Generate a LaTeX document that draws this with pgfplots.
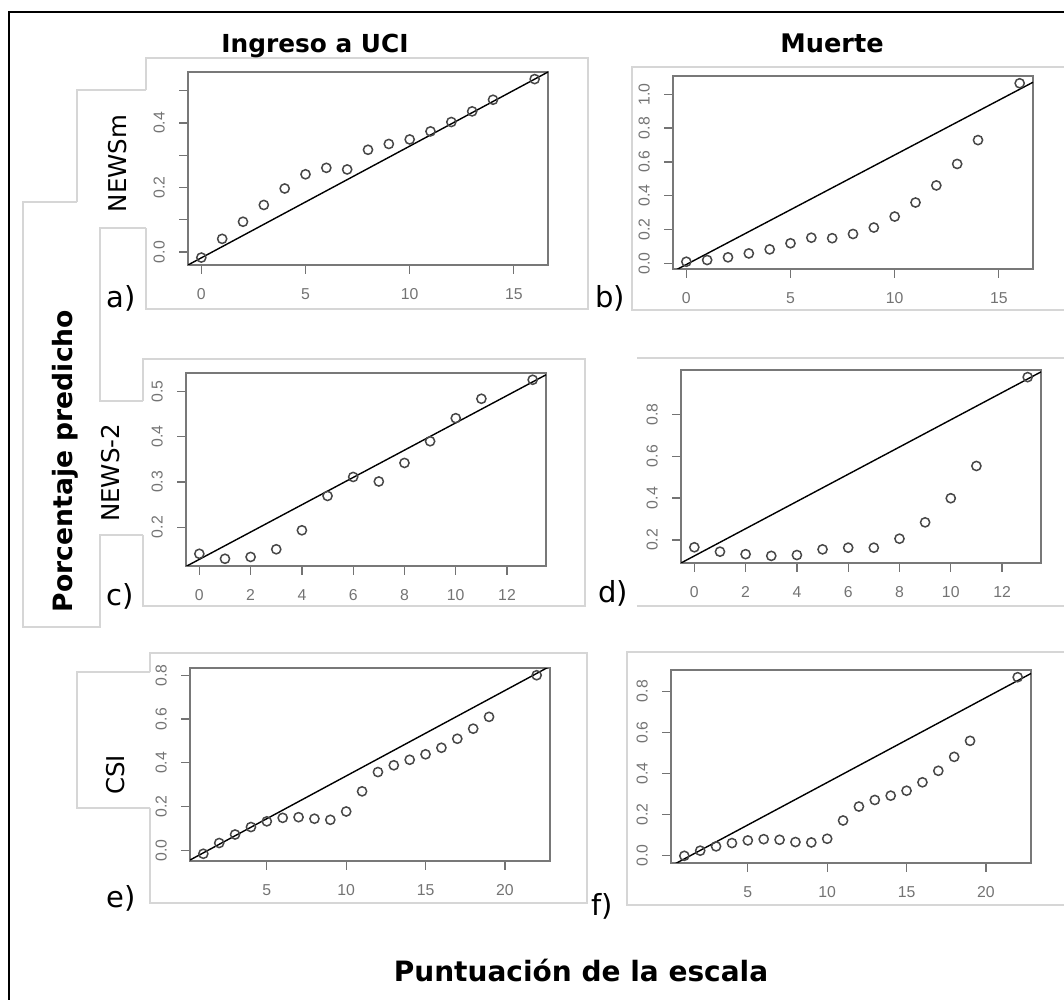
\documentclass[border=0pt]{standalone}
\usepackage{fontspec}
\setmainfont{DejaVu Sans}
\newfontfamily\tickfont{Liberation Sans}
\usepackage{pgfplots}
\pgfplotsset{compat=1.18}

\definecolor{framegray}{gray}{0.84}
\definecolor{boxgray}{gray}{0.47}
\definecolor{tickgray}{gray}{0.45}

\pgfplotsset{
  panel/.style={
    width=180bp, height=96.5bp, scale only axis, anchor=south west,
    axis line style={boxgray, line width=1.2bp},
    tick style={tickgray, line width=0.6bp},
    major tick length=4.5bp, tick align=outside,
    xtick pos=bottom, ytick pos=left,
    ticklabel style={font=\fontsize{7.9bp}{9bp}\selectfont\tickfont, text=tickgray},
    xticklabel shift=3.6bp, yticklabel shift=3.6bp,
    yticklabel style={rotate=90, anchor=south},
    clip=true,
  },
  pts/.style={only marks, mark=o, mark size=2.3bp, mark options={black!72, line width=0.75bp}},
  diag/.style={black, line width=0.7bp, no marks},
}

\begin{document}
\begin{tikzpicture}
\path[use as bounding box] (0,0) rectangle (532bp,500bp);
\begin{scope}[x=0.5bp, y=-0.5bp, shift={(0,500bp)}]
  % outer border
  \draw[black, line width=1.2bp] (9,1000) -- (9,12) -- (1064,12);
  % faint frames of the composed images
  \begin{scope}[framegray, line width=0.6bp]
    % panel a
    \draw (146,90) -- (146,58) -- (588,58) -- (588,309) -- (146,309) -- (146,228);
    % NEWSm box
    \draw (146,90) -- (77,90) -- (77,202);
    % Porcentaje box and a) box
    \draw (77,202) -- (23,202) -- (23,627) -- (100,627) -- (100,535) -- (143,535);
    \draw (146,228) -- (100,228) -- (100,401) -- (143,401);
    % panel c
    \draw (143,401) -- (143,359) -- (585,359) -- (585,606) -- (143,606) -- (143,535);
    % panel b
    \draw (1064,67) -- (632,67) -- (632,310) -- (1064,310);
    % panel d
    \draw (1064,358) -- (637,358);
    \draw (637,606) -- (1064,606);
    % panel e
    \draw (150,672) -- (150,653) -- (587,653) -- (587,903) -- (150,903) -- (150,808);
    % CSI box
    \draw (150,672) -- (77,672) -- (77,808) -- (150,808);
    % panel f
    \draw (1064,652) -- (627,652) -- (627,905) -- (1064,905);
  \end{scope}
  % titles
  \node[anchor=base, font=\fontsize{12.4bp}{14bp}\selectfont\bfseries] at (315,53) {Ingreso a UCI};
  \node[anchor=base, font=\fontsize{12.8bp}{14bp}\selectfont\bfseries] at (832,53) {Muerte};
  \node[anchor=base, font=\fontsize{14bp}{16bp}\selectfont\bfseries] at (581,982) {Puntuación de la escala};
  \node[anchor=base, rotate=90, font=\fontsize{13.3bp}{15bp}\selectfont\bfseries] at (72.5,461) {Porcentaje predicho};
  % row labels
  \node[anchor=base, rotate=90, font=\fontsize{12.25bp}{14bp}\selectfont] at (127,163.5) {NEWSm};
  \node[anchor=base, rotate=90, font=\fontsize{12.25bp}{14bp}\selectfont] at (120,473) {NEWS-2};
  \node[anchor=base, rotate=90, font=\fontsize{12.25bp}{14bp}\selectfont] at (125,775) {CSI};
  % panel letters
  \node[anchor=base, font=\fontsize{14.5bp}{16bp}\selectfont] at (121,308) {a)};
  \node[anchor=base, font=\fontsize{14.5bp}{16bp}\selectfont] at (610,308) {b)};
  \node[anchor=base, font=\fontsize{14.5bp}{16bp}\selectfont] at (120,606) {c)};
  \node[anchor=base, font=\fontsize{14.5bp}{16bp}\selectfont] at (613,603) {d)};
  \node[anchor=base, font=\fontsize{14.5bp}{16bp}\selectfont] at (121,908) {e)};
  \node[anchor=base, font=\fontsize{14.5bp}{16bp}\selectfont] at (602,916) {f)};
\end{scope}

% a) NEWSm - Ingreso a UCI
\begin{axis}[panel, at={(94bp,367.5bp)},
  xmin=-0.64, xmax=16.64, ymin=-0.04, ymax=0.558,
  xtick={0,5,10,15}, xticklabels={0,5,10,15},
  ytick={0,0.1,0.2,0.3,0.4,0.5}, yticklabels={0.0,,0.2,,0.4,}]
\addplot[diag] coordinates {(-0.64,-0.04) (16.64,0.558)};
\addplot[pts] coordinates {(0,-0.017)(1,0.041)(2,0.094)(3,0.146)(4,0.197)(5,0.241)(6,0.261)(7,0.256)(8,0.317)(9,0.335)(10,0.349)(11,0.374)(12,0.403)(13,0.436)(14,0.472)(16,0.536)};
\end{axis}

% b) NEWSm - Muerte
\begin{axis}[panel, at={(336.5bp,365.5bp)},
  xmin=-0.64, xmax=16.64, ymin=-0.033, ymax=1.108,
  xtick={0,5,10,15}, xticklabels={0,5,10,15},
  ytick={0,0.2,0.4,0.6,0.8,1.0}, yticklabels={0.0,0.2,0.4,0.6,0.8,1.0}]
\addplot[diag] coordinates {(-0.64,-0.048) (16.64,1.071)};
\addplot[pts] coordinates {(0,0.010)(1,0.020)(2,0.036)(3,0.059)(4,0.083)(5,0.119)(6,0.152)(7,0.149)(8,0.174)(9,0.212)(10,0.277)(11,0.360)(12,0.461)(13,0.588)(14,0.729)(16,1.065)};
\end{axis}

% c) NEWS-2 - Ingreso a UCI
\begin{axis}[panel, at={(93bp,217bp)},
  xmin=-0.52, xmax=13.52, ymin=0.114, ymax=0.541,
  xtick={0,2,4,6,8,10,12}, xticklabels={0,2,4,6,8,10,12},
  ytick={0.2,0.3,0.4,0.5}, yticklabels={0.2,0.3,0.4,0.5}]
\addplot[diag] coordinates {(-0.52,0.113) (13.52,0.537)};
\addplot[pts] coordinates {(0,0.141)(1,0.130)(2,0.134)(3,0.151)(4,0.193)(5,0.269)(6,0.311)(7,0.301)(8,0.342)(9,0.390)(10,0.441)(11,0.484)(13,0.526)};
\end{axis}

% d) NEWS-2 - Muerte
\begin{axis}[panel, at={(340.5bp,218.5bp)},
  xmin=-0.52, xmax=13.52, ymin=0.090, ymax=1.011,
  xtick={0,2,4,6,8,10,12}, xticklabels={0,2,4,6,8,10,12},
  ytick={0.2,0.4,0.6,0.8}, yticklabels={0.2,0.4,0.6,0.8}]
\addplot[diag] coordinates {(-0.52,0.090) (13.52,1.002)};
\addplot[pts] coordinates {(0,0.165)(1,0.144)(2,0.132)(3,0.124)(4,0.128)(5,0.155)(6,0.163)(7,0.163)(8,0.206)(9,0.284)(10,0.399)(11,0.553)(13,0.977)};
\end{axis}

% e) CSI - Ingreso a UCI
\begin{axis}[panel, at={(95bp,69.5bp)},
  xmin=0.16, xmax=22.84, ymin=-0.048, ymax=0.833,
  xtick={5,10,15,20}, xticklabels={5,10,15,20},
  ytick={0,0.2,0.4,0.6,0.8}, yticklabels={0.0,0.2,0.4,0.6,0.8}]
\addplot[diag] coordinates {(0.16,-0.0436) (22.84,0.841)};
\addplot[pts] coordinates {(1,-0.015)(2,0.034)(3,0.073)(4,0.107)(5,0.133)(6,0.149)(7,0.152)(8,0.145)(9,0.140)(10,0.178)(11,0.270)(12,0.358)(13,0.389)(14,0.414)(15,0.439)(16,0.469)(17,0.510)(18,0.556)(19,0.610)(22,0.800)};
\end{axis}

% f) CSI - Muerte
\begin{axis}[panel, at={(335.5bp,68.5bp)},
  xmin=0.16, xmax=22.84, ymin=-0.037, ymax=0.903,
  xtick={5,10,15,20}, xticklabels={5,10,15,20},
  ytick={0,0.2,0.4,0.6,0.8}, yticklabels={0.0,0.2,0.4,0.6,0.8}]
\addplot[diag] coordinates {(0.16,-0.0517) (22.84,0.886)};
\addplot[pts] coordinates {(1,-0.002)(2,0.023)(3,0.044)(4,0.060)(5,0.073)(6,0.079)(7,0.076)(8,0.065)(9,0.063)(10,0.081)(11,0.170)(12,0.238)(13,0.270)(14,0.291)(15,0.315)(16,0.356)(17,0.412)(18,0.480)(19,0.558)(22,0.868)};
\end{axis}
\end{tikzpicture}
\end{document}
